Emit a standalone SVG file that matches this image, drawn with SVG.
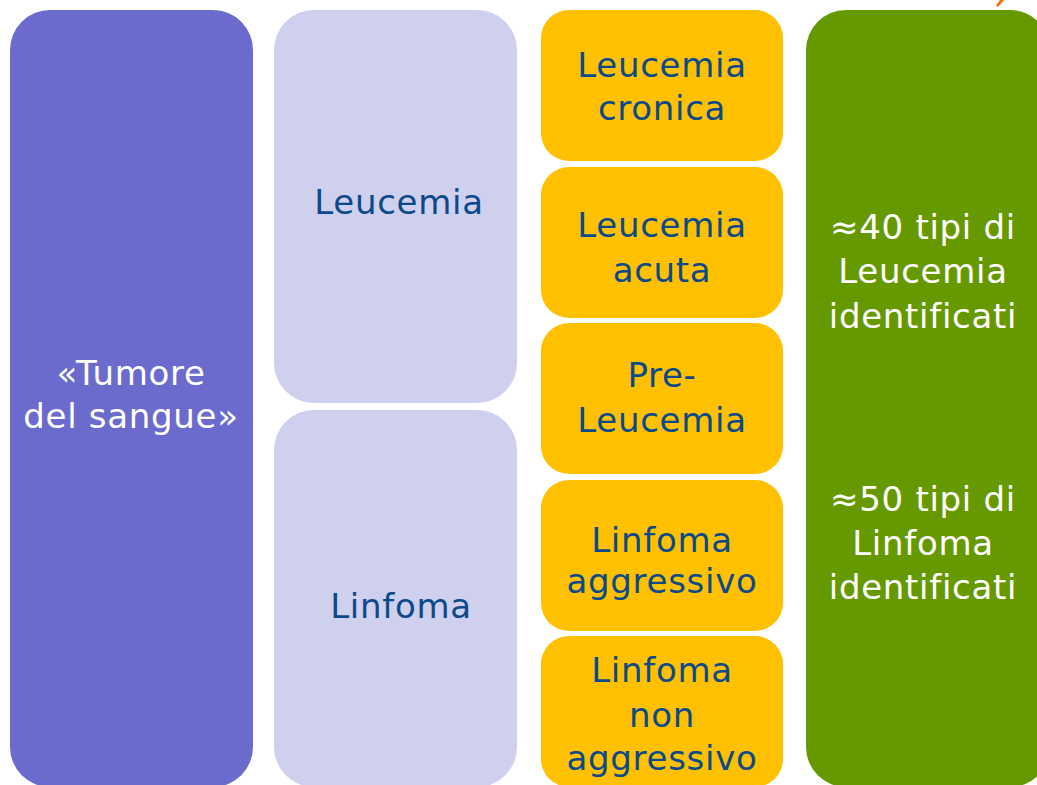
<svg xmlns="http://www.w3.org/2000/svg" width="1037" height="785" viewBox="0 0 1037 785">
<style>
text{font-family:"DejaVu Sans","Verdana",sans-serif;font-size:34px;text-anchor:middle;letter-spacing:0.7px}
.d{fill:#0b4a8a}
.w{fill:#ffffff}
</style>
<rect width="1037" height="785" fill="#ffffff"/>
<polygon points="996,6 1000,0 1004,0 998,7" fill="#ff6600"/>
<g id="tumore">
<rect x="10" y="10" width="243" height="777" rx="40" fill="#6b6bcd"/>
<text class="w" x="131" y="385">«Tumore</text>
<text class="w" x="131" y="428">del sangue»</text>
</g>
<g id="leucemia">
<rect x="274" y="10" width="243" height="393" rx="40" fill="#cfcfee"/>
<text class="d" x="399" y="214">Leucemia</text>
</g>
<g id="linfoma">
<rect x="274" y="410" width="243" height="377" rx="40" fill="#cfcfee"/>
<text class="d" x="401" y="618">Linfoma</text>
</g>
<g id="cronica">
<rect x="541" y="10" width="242" height="151" rx="28" fill="#ffc000"/>
<text class="d" x="662" y="77">Leucemia</text>
<text class="d" x="662" y="120">cronica</text>
</g>
<g id="acuta">
<rect x="541" y="167" width="242" height="151" rx="28" fill="#ffc000"/>
<text class="d" x="662" y="237">Leucemia</text>
<text class="d" x="662" y="282">acuta</text>
</g>
<g id="preleucemia">
<rect x="541" y="323" width="242" height="151" rx="28" fill="#ffc000"/>
<text class="d" x="662" y="387">Pre-</text>
<text class="d" x="662" y="432">Leucemia</text>
</g>
<g id="aggressivo">
<rect x="541" y="480" width="242" height="151" rx="28" fill="#ffc000"/>
<text class="d" x="662" y="552">Linfoma</text>
<text class="d" x="662" y="593">aggressivo</text>
</g>
<g id="nonaggressivo">
<rect x="541" y="636" width="242" height="151" rx="28" fill="#ffc000"/>
<text class="d" x="662" y="682">Linfoma</text>
<text class="d" x="662" y="727">non</text>
<text class="d" x="662" y="770">aggressivo</text>
</g>
<g id="tipi">
<rect x="806" y="10" width="244" height="777" rx="40" fill="#669900"/>
<text class="w" x="923" y="239">≈40 tipi di</text>
<text class="w" x="923" y="283">Leucemia</text>
<text class="w" x="923" y="328">identificati</text>
<text class="w" x="923" y="511">≈50 tipi di</text>
<text class="w" x="923" y="555">Linfoma</text>
<text class="w" x="923" y="599">identificati</text>
</g>
<g id="connectors"></g>
</svg>
